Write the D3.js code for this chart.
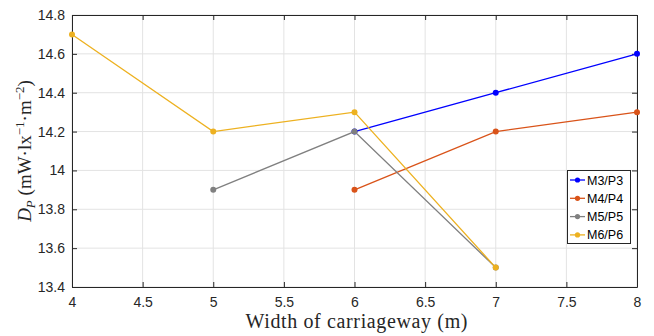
<!DOCTYPE html>
<html><head><meta charset="utf-8">
<script src="https://cdn.jsdelivr.net/npm/d3@7"></script>
<style>body{margin:0;background:#fff}svg{display:block}</style>
</head><body>
<svg id="c" width="654" height="336"></svg>
<script>
const seriesNames = ["M3/P3","M4/P4","M5/P5","M6/P6"];
const seriesColors = ["#0000ff","#d95319","#808080","#edb120"];
const m3x = [6,7,8],   m3y = [14.2,14.4,14.6];
const m4x = [6,7,8],   m4y = [13.9,14.2,14.3];
const m5x = [5,6,7],   m5y = [13.9,14.2,13.5];
const m6x = [4,5,6,7], m6y = [14.7,14.2,14.3,13.5];
const xTicks = [4,4.5,5,5.5,6,6.5,7,7.5,8];
const yTicks = [13.4,13.6,13.8,14,14.2,14.4,14.6,14.8];

const svg = d3.select("#c");
const L=72,R=637,T=15,B=287;
const x = d3.scaleLinear().domain([4,8]).range([L,R]);
const y = d3.scaleLinear().domain([13.4,14.8]).range([B,T]);
const axisCol="#262626";

// grid
svg.append("g").selectAll("line").data(xTicks).join("line")
 .attr("x1",d=>x(d)).attr("x2",d=>x(d)).attr("y1",T).attr("y2",B)
 .attr("stroke","#e3e3e3").attr("stroke-width",1);
svg.append("g").selectAll("line").data(yTicks).join("line")
 .attr("y1",d=>y(d)).attr("y2",d=>y(d)).attr("x1",L).attr("x2",R)
 .attr("stroke","#e3e3e3").attr("stroke-width",1);

// axes
const fmt = d=>String(+d.toFixed(1));
const xa = svg.append("g").attr("transform",`translate(0,${B})`)
 .call(d3.axisBottom(x).tickValues(xTicks).tickFormat(fmt).tickSizeInner(-5).tickSizeOuter(0).tickPadding(10));
const ya = svg.append("g").attr("transform",`translate(${L},0)`)
 .call(d3.axisLeft(y).tickValues(yTicks).tickFormat(fmt).tickSizeInner(-5).tickSizeOuter(0).tickPadding(7));
svg.append("g").attr("transform",`translate(0,${T})`)
 .call(d3.axisTop(x).tickValues(xTicks).tickFormat("").tickSizeInner(-5).tickSizeOuter(0));
svg.append("g").attr("transform",`translate(${R},0)`)
 .call(d3.axisRight(y).tickValues(yTicks).tickFormat("").tickSizeInner(-5).tickSizeOuter(0));
svg.selectAll(".domain").attr("stroke",axisCol);
svg.selectAll(".tick line").attr("stroke",axisCol);
svg.selectAll(".tick text").attr("fill",axisCol)
 .style("font-family","'Liberation Sans',Arial,sans-serif").style("font-size","14px");

// series
const sets = [[m3x,m3y],[m4x,m4y],[m5x,m5y],[m6x,m6y]];
const line = d3.line().x(d=>x(d[0])).y(d=>y(d[1]));
sets.forEach((s,i)=>{
  const pts = s[0].map((v,j)=>[v,s[1][j]]);
  const g = svg.append("g");
  g.append("path").attr("d",line(pts)).attr("fill","none")
   .attr("stroke",seriesColors[i]).attr("stroke-width",1.3);
  g.selectAll("circle").data(pts).join("circle")
   .attr("cx",d=>x(d[0])).attr("cy",d=>y(d[1])).attr("r",3)
   .attr("fill",seriesColors[i]);
});

// legend
const lg = svg.append("g");
lg.append("rect").attr("x",567.5).attr("y",170.5).attr("width",63).attr("height",73)
 .attr("fill","#fff").attr("stroke",axisCol).attr("stroke-width",1);
seriesNames.forEach((n,i)=>{
  const yy = 180 + i*18.3;
  lg.append("line").attr("x1",570).attr("x2",585).attr("y1",yy).attr("y2",yy)
   .attr("stroke",seriesColors[i]).attr("stroke-width",1.3);
  lg.append("circle").attr("cx",577.5).attr("cy",yy).attr("r",2.6).attr("fill",seriesColors[i]);
  lg.append("text").attr("x",587).attr("y",yy+4.5).text(n)
   .style("font-family","'Liberation Sans',Arial,sans-serif").style("font-size","12.5px").attr("fill","#000");
});

// axis titles
svg.append("text").attr("x",(L+R)/2+2).attr("y",328).attr("text-anchor","middle")
 .attr("textLength",222).attr("lengthAdjust","spacing")
 .style("font-family","'Liberation Serif','Times New Roman',serif").style("font-size","20px")
 .attr("fill",axisCol).text("Width of carriageway (m)");

const yl = svg.append("text").attr("transform",`translate(31,${(T+B)/2}) rotate(-90)`)
 .attr("text-anchor","middle")
 .style("font-family","'Liberation Serif','Times New Roman',serif").style("font-size","19px")
 .attr("fill",axisCol);
yl.append("tspan").style("font-style","italic").text("D");
yl.append("tspan").style("font-style","italic").style("font-size","13px").attr("dy",4).text("P");
yl.append("tspan").attr("dy",-4).text(" (mW\u00B7lx");
yl.append("tspan").style("font-size","13px").attr("dy",-7).text("\u22121");
yl.append("tspan").attr("dy",7).text("\u00B7m");
yl.append("tspan").style("font-size","13px").attr("dy",-7).text("\u22122");
yl.append("tspan").attr("dy",7).text(")");
</script>
</body></html>
